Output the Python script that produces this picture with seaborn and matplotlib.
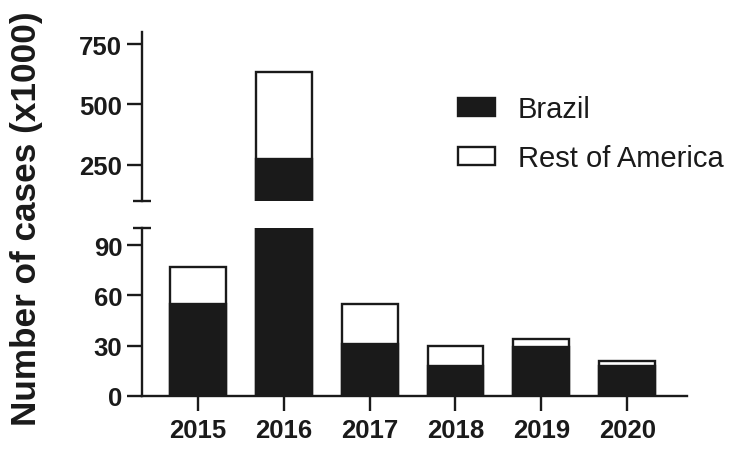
import matplotlib
matplotlib.use("Agg")
import matplotlib.pyplot as plt
from matplotlib.patches import Patch
from matplotlib.ticker import FixedLocator
from matplotlib import font_manager as fm
import seaborn as sns
import pandas as pd

years = ["2015", "2016", "2017", "2018", "2019", "2020"]
brazil = [55, 275, 31, 18, 29, 18]
rest_of_america = [22, 360, 24, 12, 5, 3]
lower_ticks = [0, 30, 60, 90]
upper_ticks = [250, 500, 750]

df = pd.DataFrame({"year": years, "Brazil": brazil, "Rest": rest_of_america})
df["Total"] = df["Brazil"] + df["Rest"]

sns.set_style("ticks")
plt.rcParams["font.family"] = ["Liberation Sans", "DejaVu Sans"]


def find_font(bold):
    for f in fm.fontManager.ttflist:
        if f.name == "Liberation Sans" and "Narrow" not in f.fname and f.style == "normal":
            w = f.weight if isinstance(f.weight, int) else (700 if f.weight == "bold" else 400)
            if (w >= 600) == bold:
                return f.fname
    return None


bold_path = find_font(True)
reg_path = find_font(False)


def fp(size, bold=True):
    path = bold_path if bold else reg_path
    if path:
        return fm.FontProperties(fname=path, size=size)
    return fm.FontProperties(family="DejaVu Sans", weight="bold" if bold else "normal", size=size)


INK = "#1a1a1a"
LW = 1.7
TICK_FS = 18.5

fig = plt.figure(figsize=(7.39, 4.56), dpi=100)
ax_lo = fig.add_axes([141.7 / 739, 59 / 456, (687.3 - 141.7) / 739, (397 - 229.3) / 456])
ax_hi = fig.add_axes([141.7 / 739, (456 - 202) / 456, (687.3 - 141.7) / 739, (202 - 33) / 456])

for ax in (ax_lo, ax_hi):
    sns.barplot(data=df, x="year", y="Total", color="white", edgecolor=INK,
                linewidth=LW, width=0.65, errorbar=None, ax=ax, saturation=1)
    sns.barplot(data=df, x="year", y="Brazil", color=INK, edgecolor=INK,
                linewidth=LW, width=0.65, errorbar=None, ax=ax, saturation=1)
    ax.set_xlabel("")
    ax.set_ylabel("")
    ax.set_xlim(-0.655, 5.70)
    for s in ("top", "right"):
        ax.spines[s].set_visible(False)
    for s in ("left", "bottom"):
        ax.spines[s].set_linewidth(LW)
        ax.spines[s].set_color(INK)
    ax.tick_params(axis="both", which="major", direction="out", length=10.5,
                   width=LW, color=INK, labelsize=TICK_FS, labelcolor=INK, pad=3.5)

ax_lo.set_ylim(0, 100)
ax_lo.yaxis.set_major_locator(FixedLocator(lower_ticks))
ax_lo.yaxis.set_minor_locator(FixedLocator([100]))
ax_lo.tick_params(axis="y", which="minor", direction="inout", length=13, width=LW, color=INK)
ax_lo.tick_params(axis="x", pad=5)

ax_hi.set_ylim(100, 800)
ax_hi.yaxis.set_major_locator(FixedLocator(upper_ticks))
ax_hi.yaxis.set_minor_locator(FixedLocator([100]))
ax_hi.tick_params(axis="y", which="minor", direction="inout", length=13, width=LW, color=INK)
ax_hi.spines["bottom"].set_visible(False)
ax_hi.tick_params(axis="x", which="both", bottom=False, labelbottom=False)

for lab in ax_lo.get_xticklabels() + ax_lo.get_yticklabels() + ax_hi.get_yticklabels():
    lab.set_fontproperties(fp(TICK_FS, True))

handles = [Patch(facecolor=INK, edgecolor=INK, linewidth=LW, label="Brazil"),
           Patch(facecolor="white", edgecolor=INK, linewidth=LW, label="Rest of America")]
fig.legend(handles=handles, loc="upper left", bbox_to_anchor=(458 / 739, 1 - 96 / 456),
           frameon=False, prop=fp(21, False), handlelength=1.27, handleheight=0.59,
           handletextpad=0.79, labelspacing=0.72, borderpad=0, borderaxespad=0,
           labelcolor=INK)

fig.text(27 / 739, 1 - 218.5 / 456, "Number of cases (x1000)", rotation=90,
         ha="center", va="center", fontproperties=fp(25.3, True), color=INK)

fig.savefig("out.png", dpi=100)
